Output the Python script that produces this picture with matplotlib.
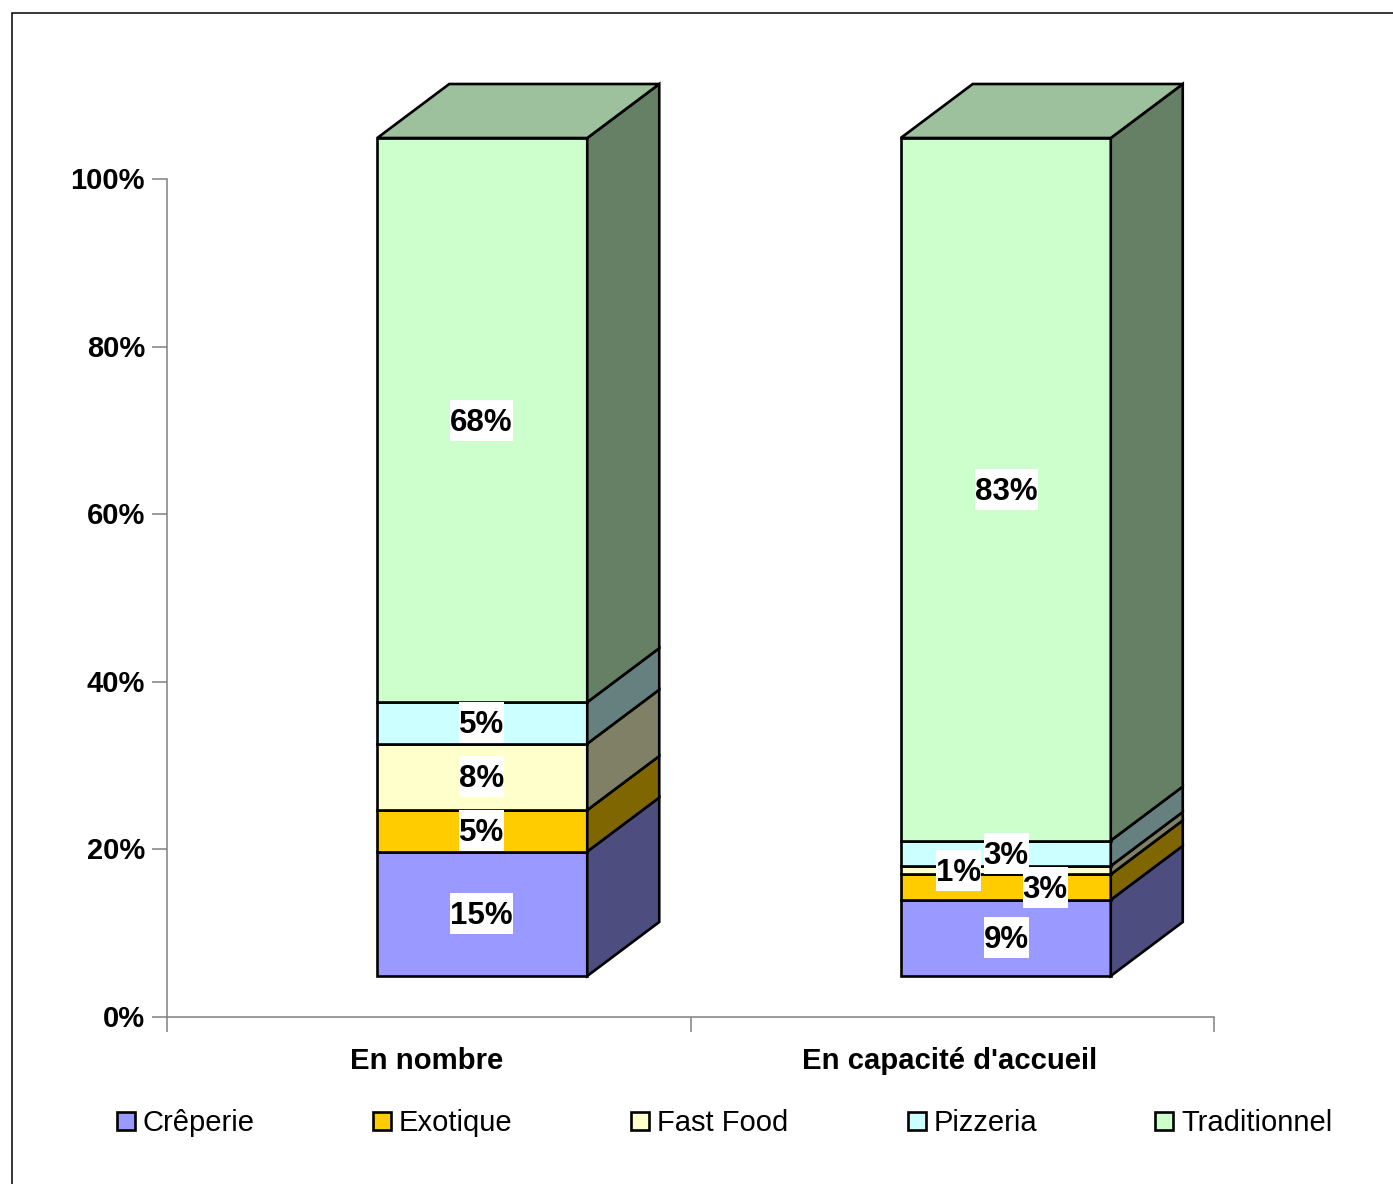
import matplotlib
matplotlib.use("Agg")
import matplotlib.pyplot as plt
from matplotlib.patches import Polygon, Rectangle
from matplotlib.transforms import ScaledTranslation
import numpy as np

plt.rcParams['font.family'] = ['Liberation Sans', 'DejaVu Sans']

categories = ["En nombre", "En capacité d'accueil"]
series = ["Crêperie", "Exotique", "Fast Food", "Pizzeria", "Traditionnel"]
nombre = [15, 5, 8, 5, 68]
capacite = [9, 3, 1, 3, 83]
colors = ["#9999FF", "#FFCC00", "#FFFFCC", "#CCFFFF", "#CCFFCC"]
side_colors = ["#4D4D80", "#806600", "#808066", "#668080", "#668066"]
top_color = "#9DC09D"

W, H = 1393, 1184
DARK = "#000000"
GREY = "#808080"

fig = plt.figure(figsize=(W / 100, H / 100), dpi=100)
ax = fig.add_axes([167 / W, 1 - 1017 / H, (1214 - 167) / W, (1017 - 179) / H])
ax.set_xlim(0, 2)
ax.set_ylim(0, 100)

# frame round the chart, runs off the right and bottom of the picture
fig.add_artist(Rectangle((12 / W, -0.02), 1.1, 1 - 13 / H + 0.02, transform=fig.transFigure,
                         fill=False, edgecolor=DARK, linewidth=1.1))

# fake 3d offsets, in axis units
px_x = 2 / (1214 - 167)
px_y = 100 / (1017 - 179)
front_dx = 53.5 * px_x
front_dy = 41 * px_y
depth_x = 72 * px_x
depth_y = 54 * px_y
bar_w = 210 * px_x
lw = 1.9

# small segments have their labels pushed sideways, as in the original
label_shift = {(1, 1): 39 * px_x, (1, 2): -48 * px_x}
bar_label_dx = [-1 * px_x, 0.5 * px_x]

for i, vals in enumerate([nombre, capacite]):
    vals = np.array(vals, dtype=float)
    share = vals / vals.sum() * 100
    left = i + 0.5 + front_dx - bar_w / 2
    right = left + bar_w
    bottom = front_dy
    for j, s in enumerate(share):
        ax.bar(left, s, bar_w, bottom=bottom, align='edge', color=colors[j], edgecolor=DARK,
               linewidth=lw, clip_on=False, zorder=3)
        side = [(right, bottom), (right + depth_x, bottom + depth_y),
                (right + depth_x, bottom + s + depth_y), (right, bottom + s)]
        ax.add_patch(Polygon(side, closed=True, facecolor=side_colors[j], edgecolor=DARK,
                             linewidth=lw, clip_on=False, zorder=3))
        # white box is wider than tall compared with a plain bbox, so draw it apart
        label = f"{vals[j]:.0f}%"
        box_w = (63 if vals[j] >= 10 else 45) * px_x
        box_h = 41 * px_y
        cx = (left + right) / 2 + label_shift.get((i, j), 0) + bar_label_dx[i]
        cy = bottom + s / 2
        ax.add_patch(Rectangle((cx - box_w / 2, cy - box_h / 2), box_w, box_h, facecolor='white',
                               edgecolor='none', clip_on=False, zorder=5))
        ax.text(cx, cy - 2.5 * px_y, label, ha='center', va='center', fontsize=22.5,
                fontweight='bold', color='black', zorder=6)
        bottom += s
    top = [(left, bottom), (left + depth_x, bottom + depth_y),
           (right + depth_x, bottom + depth_y), (right, bottom)]
    ax.add_patch(Polygon(top, closed=True, facecolor=top_color, edgecolor=DARK,
                         linewidth=lw, clip_on=False, zorder=3))

for sp in ['top', 'right']:
    ax.spines[sp].set_visible(False)
for sp in ['left', 'bottom']:
    ax.spines[sp].set_color(GREY)
    ax.spines[sp].set_linewidth(1.1)

ax.set_yticks(range(0, 101, 20))
ax.set_yticklabels([f"{v}%" for v in range(0, 101, 20)], fontsize=21, fontweight='bold')
ax.tick_params(axis='y', length=10.8, width=1.1, color=GREY, pad=5)
nudge = ScaledTranslation(0, 1 / 100, fig.dpi_scale_trans)
for t in ax.get_yticklabels():
    t.set_transform(t.get_transform() + nudge)
ax.set_xticks([0, 1, 2])
ax.set_xticklabels([])
ax.tick_params(axis='x', length=10.8, width=1.1, color=GREY)
ax.set_xticks([0.496, 1.4945], minor=True)
ax.set_xticklabels(categories, minor=True, fontsize=21.1, fontweight='bold')
ax.tick_params(axis='x', which='minor', length=0, pad=21.5)

# legend is spread unevenly in the original so place it by hand
swatch_x = [117, 373, 631, 908, 1155]
for name, col, x in zip(series, colors, swatch_x):
    fig.add_artist(Rectangle((x / W, 1 - 1130 / H), 18 / W, 18 / H, transform=fig.transFigure,
                             facecolor=col, edgecolor=DARK, linewidth=1.9))
    fig.text((x + 26) / W, 1 - 1120 / H, name, fontsize=21, ha='left', va='center_baseline')

fig.savefig("out.png", dpi=100)
